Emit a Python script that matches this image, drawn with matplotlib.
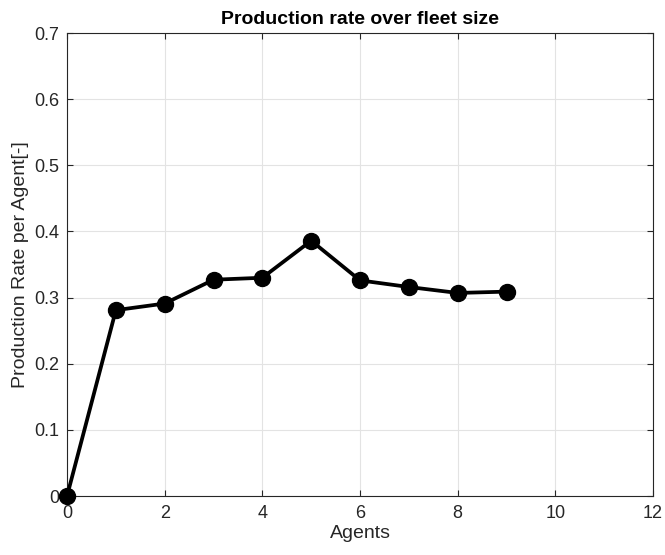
import matplotlib
matplotlib.use("Agg")
import matplotlib.pyplot as plt

# --- data ---
agents = [0, 1, 2, 3, 4, 5, 6, 7, 8, 9]
rate = [0.0, 0.281, 0.291, 0.327, 0.330, 0.386, 0.326, 0.316, 0.307, 0.309]
xticks = [0, 2, 4, 6, 8, 10, 12]
yticks = [0, 0.1, 0.2, 0.3, 0.4, 0.5, 0.6, 0.7]
ytick_labels = ["0", "0.1", "0.2", "0.3", "0.4", "0.5", "0.6", "0.7"]

plt.rcParams['font.family'] = ['Liberation Sans', 'DejaVu Sans']
AX_COL = '#262626'

fig = plt.figure(figsize=(6.65, 5.55), dpi=100)
ax = fig.add_axes([0.1008, 0.1063, 0.8812, 0.8342])

ax.plot(agents, rate, color='black', linewidth=2.7, marker='o',
        markersize=11.5, clip_on=False, zorder=3)

ax.set_xlim(0, 12)
ax.set_ylim(0, 0.7)
ax.set_xticks(xticks)
ax.set_yticks(yticks)
ax.set_yticklabels(ytick_labels)

ax.grid(True, color='#e3e3e3', linewidth=0.8)
ax.set_axisbelow(True)
for s in ax.spines.values():
    s.set_color(AX_COL)
    s.set_linewidth(0.8)
ax.tick_params(direction='in', top=True, right=True, length=4,
               color=AX_COL, labelcolor=AX_COL, labelsize=13)
ax.tick_params(axis='x', pad=6.5)
ax.tick_params(axis='y', pad=5.5)

ax.set_xlabel('Agents', fontsize=14, color=AX_COL, labelpad=2)
ax.set_ylabel('Production Rate per Agent[-]', fontsize=14, color=AX_COL, labelpad=4)
ax.set_title('Production rate over fleet size', fontsize=14, fontweight='bold',
             color='black', pad=6.5)

fig.savefig('out.png', dpi=100)
plt.close(fig)
